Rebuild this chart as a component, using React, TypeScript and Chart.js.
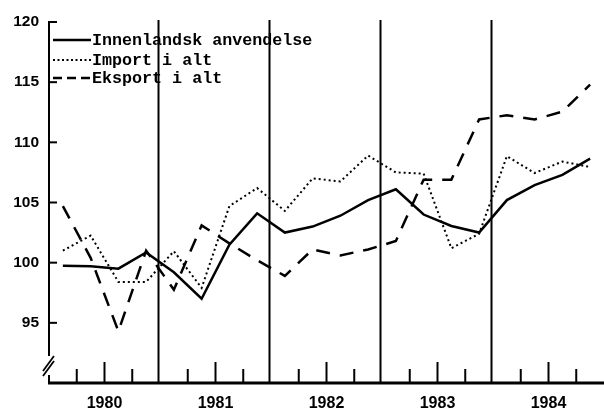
import React, { useEffect, useRef } from 'react';
import { Chart, registerables } from 'chart.js';

Chart.register(...registerables);

const years = ['1980', '1981', '1982', '1983', '1984'];
const innenlandsk = [99.75, 99.7, 99.5, 100.85, 99.2, 97.0, 101.5, 104.1, 102.5, 103.0, 103.9, 105.2, 106.1, 104.0, 103.05, 102.5, 105.2, 106.45, 107.3, 108.65];
const importTotal = [101.0, 102.25, 98.4, 98.4, 100.95, 97.9, 104.7, 106.2, 104.3, 107.0, 106.75, 108.9, 107.5, 107.4, 101.2, 102.4, 108.85, 107.45, 108.4, 107.95];
const eksport = [104.7, 100.4, 94.3, 101.0, 97.75, 103.1, 101.6, 100.2, 98.9, 101.1, 100.6, 101.1, 101.8, 106.9, 106.9, 111.9, 112.25, 111.9, 112.55, 114.8];
const yTicks = [95, 100, 105, 110, 115, 120];
const legendLabels = ['Innenlandsk anvendelse', 'Import i alt', 'Eksport i alt'];

const toPoints = (arr: number[]) => arr.map((v, i) => ({ x: i + 0.5, y: v }));

const decor = {
  id: 'decor',
  beforeDraw(chart: any) {
    const { ctx, width, height } = chart;
    ctx.save();
    ctx.fillStyle = '#fff';
    ctx.fillRect(0, 0, width, height);
    ctx.restore();
  },
  afterDatasetsDraw(chart: any) {
    const { ctx, chartArea: a, scales } = chart;
    const x = scales.x;
    const y = scales.y;
    const seg = (x1: number, y1: number, x2: number, y2: number) => {
      ctx.beginPath();
      ctx.moveTo(x1, y1);
      ctx.lineTo(x2, y2);
      ctx.stroke();
    };
    ctx.save();
    ctx.strokeStyle = '#000';
    ctx.lineCap = 'butt';
    ctx.setLineDash([]);
    // year boundary lines
    ctx.lineWidth = 2;
    for (let q = 4; q < 20; q += 4) {
      const px = x.getPixelForValue(q) - 1.5;
      seg(px, a.top - 2, px, a.bottom);
    }
    // quarter ticks (inside)
    for (let q = 1; q < 20; q++) {
      if (q % 4 === 0) continue;
      const px = x.getPixelForValue(q);
      const len = q % 4 === 2 ? 21 : 14;
      seg(px, a.bottom, px, a.bottom - len);
    }
    // y ticks (inside)
    yTicks.forEach((v) => {
      const py = y.getPixelForValue(v);
      seg(a.left, py, a.left + 8, py);
    });
    // left axis with break
    ctx.lineWidth = 2;
    seg(a.left, a.top - 1, a.left, a.bottom - 27);
    seg(a.left, a.bottom - 8, a.left, a.bottom);
    ctx.lineWidth = 1.8;
    seg(a.left - 6, a.bottom - 7, a.left + 5, a.bottom - 22);
    seg(a.left - 6, a.bottom - 12, a.left + 5, a.bottom - 27);
    // bottom axis
    ctx.lineWidth = 3;
    seg(a.left - 1, a.bottom, a.right, a.bottom);

    // legend
    const rows = [a.top + 18, a.top + 38, a.top + 56];
    const styles = [
      { w: 2.5, dash: [] as number[] },
      { w: 2, dash: [2, 2.5] },
      { w: 2.5, dash: [9, 5] },
    ];
    ctx.font = 'bold 16.7px "Liberation Mono", "DejaVu Sans Mono", monospace';
    ctx.fillStyle = '#000';
    ctx.textBaseline = 'middle';
    ctx.textAlign = 'left';
    legendLabels.forEach((label, i) => {
      ctx.lineWidth = styles[i].w;
      ctx.setLineDash(styles[i].dash);
      seg(a.left + 4, rows[i], a.left + 42, rows[i]);
      ctx.setLineDash([]);
      ctx.fillText(label, a.left + 43, rows[i] + 1);
    });
    ctx.restore();
  },
};

export default function App() {
  const ref = useRef<HTMLCanvasElement | null>(null);
  useEffect(() => {
    if (!ref.current) return;
    const tickFont = { family: '"Liberation Sans", Arial, sans-serif', size: 15.5, weight: 'bold' as const };
    const chart = new Chart(ref.current, {
      type: 'line',
      data: {
        datasets: [
          {
            label: legendLabels[0],
            data: toPoints(innenlandsk),
            borderColor: '#000',
            borderWidth: 2.5,
            pointRadius: 0,
            tension: 0,
          },
          {
            label: legendLabels[1],
            data: toPoints(importTotal),
            borderColor: '#000',
            borderWidth: 2,
            borderDash: [2, 3],
            pointRadius: 0,
            tension: 0,
          },
          {
            label: legendLabels[2],
            data: toPoints(eksport),
            borderColor: '#000',
            borderWidth: 2.5,
            borderDash: [14, 10],
            pointRadius: 0,
            tension: 0,
          },
        ],
      },
      options: {
        responsive: false,
        animation: false,
        layout: { padding: { top: 22, left: 0, right: 0, bottom: 0 } },
        plugins: { legend: { display: false }, tooltip: { enabled: false } },
        scales: {
          x: {
            type: 'linear',
            min: 0,
            max: 20,
            grid: { display: false, drawTicks: false },
            border: { display: false },
            afterBuildTicks: (s: any) => {
              s.ticks = years.map((_, i) => ({ value: 2 + 4 * i }));
            },
            afterFit: (s: any) => {
              s.height = 28;
            },
            ticks: {
              autoSkip: false,
              maxRotation: 0,
              color: '#000',
              padding: 11,
              font: { ...tickFont, size: 16 },
              callback: (v: any) => years[(Number(v) - 2) / 4] ?? '',
            },
          },
          y: {
            type: 'linear',
            min: 90,
            max: 120,
            grid: { display: false, drawTicks: false },
            border: { display: false },
            afterBuildTicks: (s: any) => {
              s.ticks = yTicks.map((v) => ({ value: v }));
            },
            afterFit: (s: any) => {
              s.width = 49;
            },
            ticks: {
              color: '#000',
              padding: 10,
              font: tickFont,
              callback: (v: any) => String(v),
            },
          },
        },
      },
      plugins: [decor],
    });
    return () => chart.destroy();
  }, []);
  return (
    <div style={{ position: 'fixed', left: 0, top: 0, width: 604, height: 411, background: '#fff' }}>
      <canvas ref={ref} width={604} height={411} style={{ display: 'block' }} />
    </div>
  );
}
